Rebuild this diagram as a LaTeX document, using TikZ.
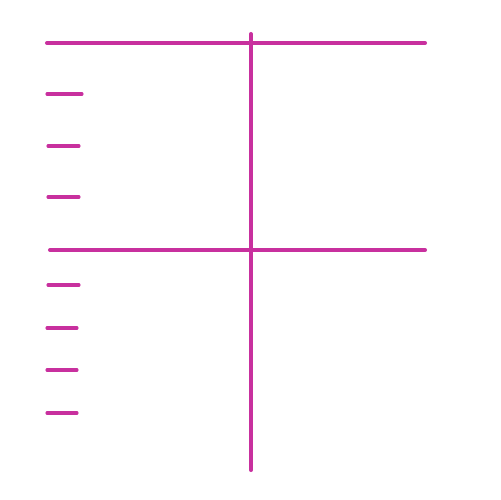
\documentclass[tikz,border=0pt]{standalone}
\usepackage{tikz}

\definecolor{penmagenta}{RGB}{200,48,158}

\begin{document}
\begin{tikzpicture}[
  x=0.02cm,y=-0.02cm,
  line cap=round,
  axisline/.style={penmagenta,line width=2.3pt},
  tickline/.style={penmagenta,line width=1.8pt}
]
  \useasboundingbox (0,0) rectangle (500,500);

  % Long strokes: two horizontals crossed by one vertical.
  \draw[axisline] (47,43) -- (425,43);
  \draw[axisline] (50,250) -- (425,250);
  \draw[axisline] (251,34) -- (251,470);

  % Short ticks down the left side, upper half.
  \draw[tickline] (47,94) -- (82,94);
  \foreach \y in {146,197}
    \draw[tickline] (48,\y) -- (79,\y);

  % Short ticks, lower half.
  \draw[tickline] (48,285) -- (79,285);
  \foreach \y in {328,370,413}
    \draw[tickline] (47,\y) -- (77,\y);
\end{tikzpicture}
\end{document}
